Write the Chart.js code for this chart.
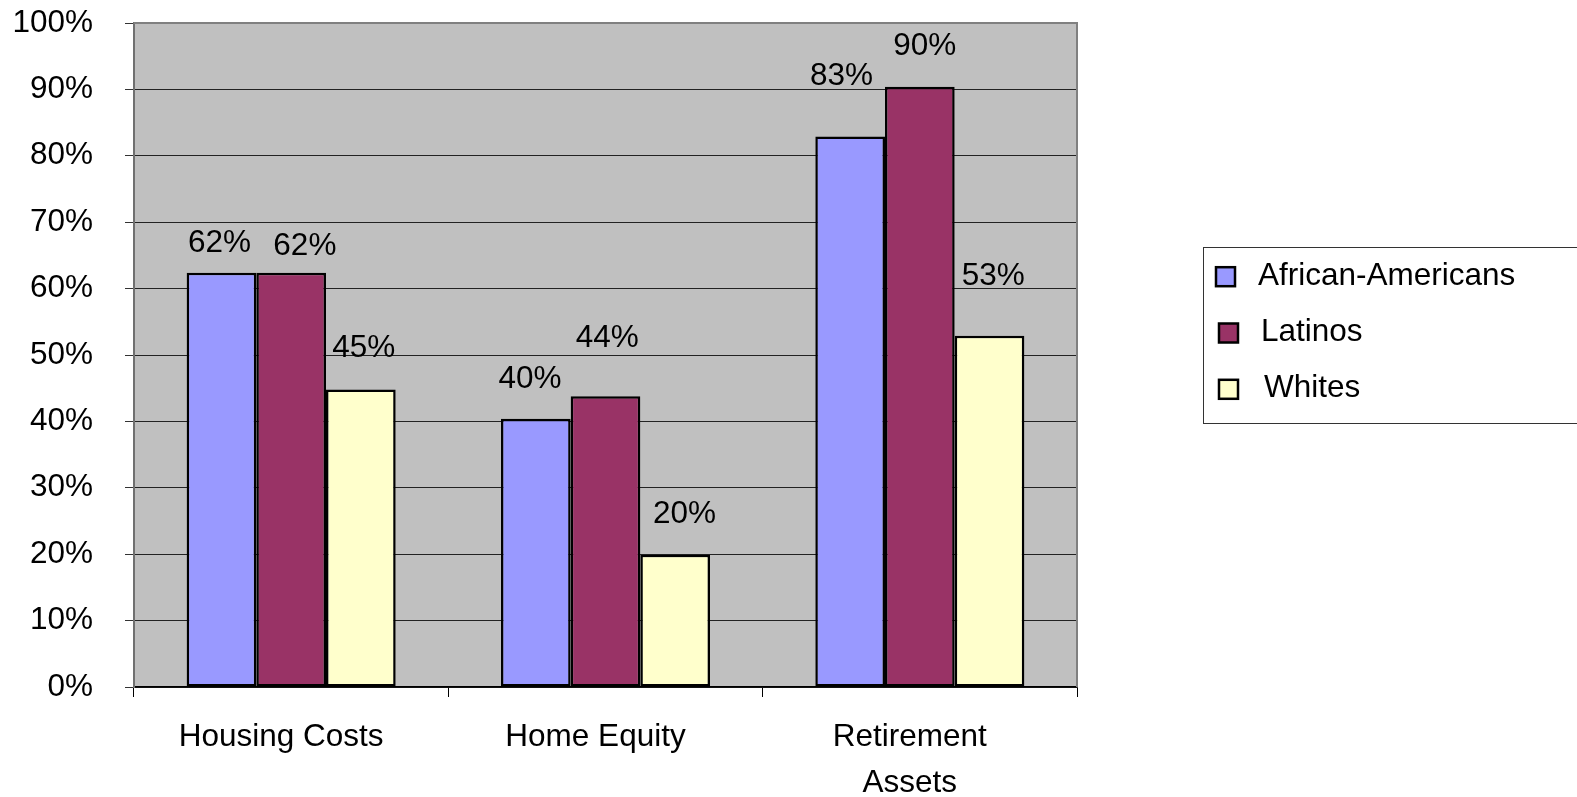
<!DOCTYPE html>
<html><head><meta charset="utf-8">
<script src="https://cdn.jsdelivr.net/npm/chart.js@4"></script>
<style>html,body{margin:0;padding:0;background:#fff;overflow:hidden}canvas{display:block}</style>
</head><body>
<canvas id="c" width="1577" height="797"></canvas>
<script>
// ---- data ----
const categories = ['Housing Costs', 'Home Equity', ['Retirement', 'Assets']];
const seriesNames = ['African-Americans', 'Latinos', 'Whites'];
const africanAmericans = [62.4, 40.4, 82.9];
const latinos = [62.4, 43.8, 90.4];
const whites = [44.8, 19.9, 52.9];
const yTickValues = [0, 10, 20, 30, 40, 50, 60, 70, 80, 90, 100];

// ---- styles ----
const FONT = '"Liberation Sans", Arial, sans-serif';
const FS = 31.5;
const colors = ['#9999FF', '#993366', '#FFFFCC'];
// label placement (dx, dy above bar top) per series / category
const labelOffsets = [
  [[-2, 31.7], [-5.8, 41.9], [-8.7, 62.9]],
  [[13.7, 29], [1.7, 60.2], [5, 43.5]],
  [[3, 44.3], [9.3, 43.5], [3.8, 61.8]]
];

const plotBg = {
  id: 'plotBg',
  beforeDraw(chart) {
    const {ctx, chartArea: a} = chart;
    ctx.save();
    ctx.fillStyle = '#C0C0C0';
    ctx.fillRect(a.left, a.top, a.right - a.left, a.bottom - a.top);
    ctx.restore();
  },
  beforeDatasetsDraw(chart) {
    const {ctx, chartArea: a} = chart;
    ctx.save();
    ctx.strokeStyle = '#808080';
    ctx.lineWidth = 2;
    ctx.beginPath();
    ctx.moveTo(a.left, a.top);
    ctx.lineTo(a.right, a.top);
    ctx.lineTo(a.right, a.bottom);
    ctx.stroke();
    ctx.restore();
  }
};

const valueLabels = {
  id: 'valueLabels',
  afterDatasetsDraw(chart) {
    const ctx = chart.ctx;
    ctx.save();
    ctx.font = FS + 'px ' + FONT;
    ctx.fillStyle = '#000';
    ctx.textAlign = 'center';
    ctx.textBaseline = 'alphabetic';
    chart.data.datasets.forEach((ds, i) => {
      chart.getDatasetMeta(i).data.forEach((el, j) => {
        const [dx, dy] = labelOffsets[i][j];
        ctx.fillText(Math.round(ds.data[j]) + '%', el.x + dx, el.y - dy + 0.358 * FS);
      });
    });
    ctx.restore();
  }
};

const boxLegend = {
  id: 'boxLegend',
  afterDraw(chart) {
    const ctx = chart.ctx;
    ctx.save();
    ctx.strokeStyle = '#333';
    ctx.lineWidth = 1;
    ctx.strokeRect(1203.5, 247.5, 420, 176);
    ctx.font = FS + 'px ' + FONT;
    ctx.textAlign = 'left';
    ctx.textBaseline = 'alphabetic';
    const sqX = [1216, 1219, 1219];
    const txX = [1258, 1261, 1264];
    chart.data.datasets.forEach((ds, i) => {
      const cy = 276.7 + i * 56.3;
      ctx.fillStyle = ds.backgroundColor;
      ctx.fillRect(sqX[i], cy - 9.5, 19, 19);
      ctx.strokeStyle = '#000';
      ctx.lineWidth = 2.5;
      ctx.strokeRect(sqX[i], cy - 9.5, 19, 19);
      ctx.fillStyle = '#000';
      ctx.fillText(ds.label, txX[i], cy - 3.4 + 0.358 * FS);
    });
    ctx.restore();
  }
};

const mkSet = (label, data, color) => ({
  label, data,
  backgroundColor: color,
  borderColor: '#000',
  borderWidth: 2.5,
  borderSkipped: false,
  barPercentage: 1,
  categoryPercentage: 0.665
});

new Chart(document.getElementById('c'), {
  type: 'bar',
  data: {
    labels: categories,
    datasets: [
      mkSet(seriesNames[0], africanAmericans, colors[0]),
      mkSet(seriesNames[1], latinos, colors[1]),
      mkSet(seriesNames[2], whites, colors[2])
    ]
  },
  options: {
    responsive: false,
    animation: false,
    devicePixelRatio: 1,
    layout: {padding: {top: 23, right: 500, bottom: 0, left: 0}},
    plugins: {legend: {display: false}, tooltip: {enabled: false}},
    scales: {
      x: {
        offset: true,
        grid: {offset: true, drawOnChartArea: false, drawTicks: true, tickLength: 10, color: '#000', tickColor: '#000', lineWidth: 1},
        border: {display: true, color: '#000', width: 1.5},
        ticks: {font: {family: FONT, size: FS, lineHeight: 1.46}, color: '#000', padding: 17, labelOffset: -10, maxRotation: 0, autoSkip: false},
        afterFit(s) { s.height = 110; s.paddingLeft = 0; s.paddingRight = 0; }
      },
      y: {
        min: 0, max: 100,
        afterBuildTicks(s) { s.ticks = yTickValues.map(v => ({value: v})); },
        ticks: {callback: v => v + '%', font: {family: FONT, size: FS}, color: '#000', padding: 32},
        grid: {color: '#222', lineWidth: 1, tickLength: 9, drawTicks: true, tickColor: '#333'},
        border: {display: true, color: '#707070', width: 2},
        afterFit(s) { s.width = 134; s.paddingTop = 0; s.paddingBottom = 0; }
      }
    }
  },
  plugins: [plotBg, valueLabels, boxLegend]
});
</script>
</body></html>
